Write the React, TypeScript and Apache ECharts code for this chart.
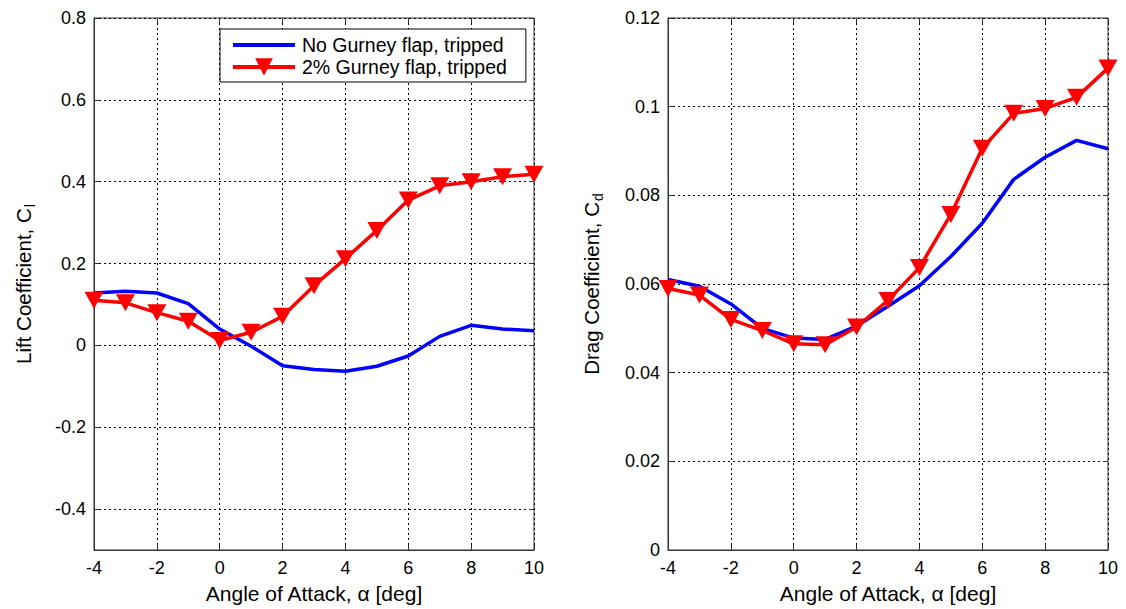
import React, { useEffect, useRef } from "react";
import * as echarts from "echarts";

const angles = [-4, -3, -2, -1, 0, 1, 2, 3, 4, 5, 6, 7, 8, 9, 10];
const liftNoFlap = [0.128, 0.132, 0.128, 0.102, 0.04, -0.002, -0.05, -0.059, -0.063, -0.051, -0.026, 0.022, 0.049, 0.04, 0.036];
const liftFlap = [0.11, 0.104, 0.08, 0.059, 0.012, 0.032, 0.071, 0.146, 0.212, 0.281, 0.355, 0.39, 0.4, 0.412, 0.418];
const dragNoFlap = [0.061, 0.0595, 0.0555, 0.05, 0.0478, 0.0475, 0.0505, 0.055, 0.0596, 0.0662, 0.0737, 0.0836, 0.0886, 0.0924, 0.0905];
const dragFlap = [0.059, 0.0575, 0.052, 0.0495, 0.0465, 0.0463, 0.0503, 0.0563, 0.0637, 0.0757, 0.0906, 0.0985, 0.0996, 0.1021, 0.1087];

const liftTicks = [-0.4, -0.2, 0, 0.2, 0.4, 0.6, 0.8];

const nameNoFlap = "No Gurney flap, tripped";
const nameFlap = "2% Gurney flap, tripped";
const xTitle = "Angle of Attack, \u03b1 [deg]";

const FONT = "Liberation Sans, Arial, sans-serif";

function pairs(ys: number[]) {
  return angles.map((a, i) => [a, ys[i]]);
}

export default function App() {
  const ref = useRef<HTMLDivElement>(null);
  useEffect(() => {
    if (!ref.current) return;
    const chart = echarts.init(ref.current, null, { renderer: "svg" });
    const splitLine = { show: true, lineStyle: { color: "#000", width: 1, type: [2, 3] as any } };
    const axisLine = { show: true, onZero: false, lineStyle: { color: "#333", width: 1 } };
    const axisTick = { show: true, inside: true, length: 5, lineStyle: { color: "#333" } };
    const axisLabel = { color: "#000", fontSize: 18, fontFamily: FONT };
    const titleRich = {
      a: { color: "#000", fontSize: 20.5, fontFamily: FONT },
      s: { color: "#000", fontSize: 14, fontFamily: FONT, padding: [14, 0, 0, 1] },
    };
    const xAxisCommon = {
      type: "value",
      min: -4,
      max: 10,
      interval: 2,
      name: xTitle,
      nameLocation: "middle",
      nameGap: 33,
      nameTextStyle: { color: "#000", fontSize: 21, fontFamily: FONT },
      axisLine,
      axisTick,
      axisLabel: { ...axisLabel, margin: 9 },
      splitLine,
    };
    const xTopCommon = {
      type: "value",
      position: "top",
      min: -4,
      max: 10,
      interval: 2,
      axisLine: { show: false, onZero: false },
      axisTick,
      axisLabel: { show: false },
      splitLine: { show: false },
    };
    const blueLine = {
      type: "line",
      symbol: "none",
      lineStyle: { color: "#0000ff", width: 3.5 },
      itemStyle: { color: "#0000ff" },
      z: 3,
    };
    const redLine = {
      type: "line",
      symbol: "triangle",
      symbolRotate: 180,
      symbolSize: [19, 17],
      lineStyle: { color: "#ff0000", width: 3.5 },
      itemStyle: { color: "#ff0000" },
      z: 4,
    };
    chart.setOption({
      animation: false,
      backgroundColor: "#fff",
      textStyle: { fontFamily: FONT },
      legend: {
        left: 220,
        top: 29,
        orient: "vertical",
        data: [
          { name: nameNoFlap, itemStyle: { opacity: 0 } },
          { name: nameFlap },
        ],
        itemWidth: 62,
        itemHeight: 22,
        itemGap: 2,
        padding: [6, 19, 5, 11],
        lineStyle: { width: 4 },
        backgroundColor: "#fff",
        borderColor: "#000",
        borderWidth: 1,
        borderRadius: 0,
        textStyle: { color: "#000", fontSize: 19.5, fontFamily: FONT, padding: [0, 0, 0, 2] },
      },
      grid: [
        { left: 94, top: 18, width: 440, height: 533, show: true, borderColor: "#333", borderWidth: 1, backgroundColor: "#fff" },
        { left: 668, top: 18, width: 440, height: 533, show: true, borderColor: "#333", borderWidth: 1, backgroundColor: "#fff" },
      ],
      xAxis: [
        { ...xAxisCommon, gridIndex: 0 },
        { ...xAxisCommon, gridIndex: 1 },
        { ...xTopCommon, gridIndex: 0 },
        { ...xTopCommon, gridIndex: 1 },
      ],
      yAxis: [
        {
          type: "value",
          gridIndex: 0,
          min: -0.5,
          max: 0.8,
          name: "{a|Lift Coefficient, C}{s|l}",
          nameLocation: "middle",
          nameRotate: 90,
          nameGap: 57,
          nameTextStyle: { rich: titleRich },
          axisLine,
          axisTick: { ...axisTick, customValues: liftTicks },
          axisLabel: { ...axisLabel, margin: 8, customValues: liftTicks },
          splitLine,
        },
        {
          type: "value",
          gridIndex: 1,
          min: 0,
          max: 0.12,
          interval: 0.02,
          name: "{a|Drag Coefficient, C}{s|d}",
          nameLocation: "middle",
          nameRotate: 90,
          nameGap: 63,
          nameTextStyle: { rich: titleRich },
          axisLine,
          axisTick,
          axisLabel: { ...axisLabel, margin: 8 },
          splitLine,
        },
        {
          type: "value",
          gridIndex: 0,
          position: "right",
          min: -0.5,
          max: 0.8,
          axisLine: { show: false, onZero: false },
          axisTick: { ...axisTick, customValues: liftTicks },
          axisLabel: { show: false },
          splitLine: { show: false },
        },
        {
          type: "value",
          gridIndex: 1,
          position: "right",
          min: 0,
          max: 0.12,
          interval: 0.02,
          axisLine: { show: false, onZero: false },
          axisTick,
          axisLabel: { show: false },
          splitLine: { show: false },
        },
      ],
      series: [
        { ...blueLine, name: nameNoFlap, xAxisIndex: 0, yAxisIndex: 0, data: pairs(liftNoFlap) },
        { ...redLine, name: nameFlap, xAxisIndex: 0, yAxisIndex: 0, data: pairs(liftFlap) },
        { ...blueLine, name: nameNoFlap, xAxisIndex: 1, yAxisIndex: 1, data: pairs(dragNoFlap) },
        { ...redLine, name: nameFlap, xAxisIndex: 1, yAxisIndex: 1, data: pairs(dragFlap) },
      ],
    });
    return () => chart.dispose();
  }, []);
  return (
    <div
      ref={ref}
      style={{ position: "fixed", left: 0, top: 0, width: 1126, height: 609, background: "#fff" }}
    />
  );
}
